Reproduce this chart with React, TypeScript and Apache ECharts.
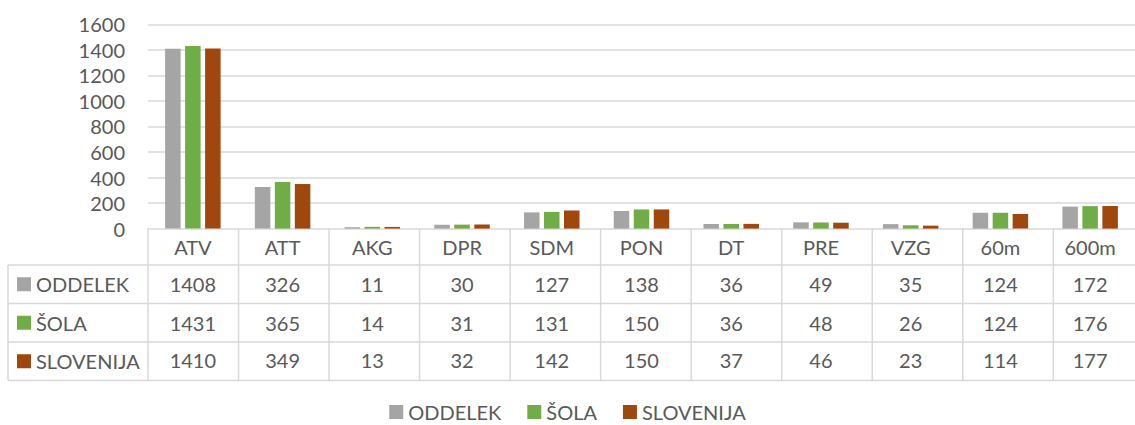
import React, { useEffect, useRef } from "react";
import * as echarts from "echarts";

const categories = ["ATV", "ATT", "AKG", "DPR", "SDM", "PON", "DT", "PRE", "VZG", "60m", "600m"];
const oddelek = [1408, 326, 11, 30, 127, 138, 36, 49, 35, 124, 172];
const sola = [1431, 365, 14, 31, 131, 150, 36, 48, 26, 124, 176];
const slovenija = [1410, 349, 13, 32, 142, 150, 37, 46, 23, 114, 177];
const seriesNames = ["ODDELEK", "ŠOLA", "SLOVENIJA"];
const seriesColors = ["#A5A5A5", "#70AD47", "#9E480E"];
const seriesValues = [oddelek, sola, slovenija];
const yMin = 0;
const yMax = 1600;
const yInterval = 200;

const W = 1135;
const H = 425;
const FONT = "Lato";
const TEXT = "#595959";
const LINE = "#D9D9D9";
const GRID_LEFT = 148;
const GRID_TOP = 24.3;
const GRID_BOTTOM_Y = 228.6;
const CAT_W = 90.53;
const TABLE_LEFT = 8;
const ROW_LINES = [265, 303.5, 342, 380.5];
const ROW_OFFSETS = [37.6, 76, 113.3];
const LABEL_MARGIN = 6;
const LABEL_LH = 24;

export default function App() {
  const ref = useRef<HTMLDivElement>(null);
  useEffect(() => {
    if (!ref.current) return;
    const chart = echarts.init(ref.current, null, { renderer: "svg" });
    const plotRight = GRID_LEFT + CAT_W * categories.length;
    const gridRight = W - plotRight;

    const xAxes: any[] = [
      {
        type: "category",
        data: categories,
        position: "bottom",
        gridIndex: 0,
        axisLine: { show: false },
        axisTick: { show: false },
        axisLabel: {
          color: TEXT,
          fontFamily: FONT,
          fontSize: 20,
          margin: LABEL_MARGIN,
          lineHeight: LABEL_LH,
          interval: 0,
        },
      },
      ...seriesValues.map((vals, si) => ({
        type: "category",
        data: categories,
        position: "bottom",
        gridIndex: 0,
        offset: ROW_OFFSETS[si],
        axisLine: { show: false },
        axisTick: { show: false },
        axisLabel: {
          color: TEXT,
          fontFamily: FONT,
          fontSize: 20,
          margin: LABEL_MARGIN,
          lineHeight: LABEL_LH,
          interval: 0,
          formatter: (_v: string, i: number) => String(vals[i]),
        },
      })),
    ];

    const graphics: any[] = [];
    ROW_LINES.forEach((y) => {
      graphics.push({
        type: "line",
        shape: { x1: TABLE_LEFT, y1: y, x2: plotRight, y2: y },
        style: { stroke: LINE, lineWidth: 1.5 },
        silent: true,
      });
    });
    graphics.push({
      type: "line",
      shape: { x1: TABLE_LEFT, y1: ROW_LINES[0], x2: TABLE_LEFT, y2: ROW_LINES[3] },
      style: { stroke: LINE, lineWidth: 1.5 },
      silent: true,
    });
    for (let i = 0; i <= categories.length; i++) {
      const x = GRID_LEFT + i * CAT_W;
      graphics.push({
        type: "line",
        shape: { x1: x, y1: GRID_BOTTOM_Y, x2: x, y2: ROW_LINES[3] },
        style: { stroke: LINE, lineWidth: 1.5 },
        silent: true,
      });
    }
    seriesNames.forEach((name, si) => {
      const cy = (ROW_LINES[si] + ROW_LINES[si + 1]) / 2;
      graphics.push({
        type: "rect",
        shape: { x: 17, y: cy - 7, width: 14, height: 14 },
        style: { fill: seriesColors[si] },
        silent: true,
      });
      graphics.push({
        type: "text",
        x: 36,
        y: cy,
        style: {
          text: name,
          fill: TEXT,
          font: `20px ${FONT}`,
          textAlign: "left",
          textVerticalAlign: "middle",
          verticalAlign: "middle",
        },
        silent: true,
      });
    });

    chart.setOption({
      animation: false,
      backgroundColor: "#ffffff",
      grid: {
        left: GRID_LEFT,
        top: GRID_TOP,
        right: gridRight,
        bottom: H - GRID_BOTTOM_Y,
        containLabel: false,
      },
      legend: {
        data: seriesNames,
        left: "center",
        top: 397,
        padding: [5, 5, 0, 5],
        icon: "rect",
        itemWidth: 14,
        itemHeight: 14,
        itemGap: 26,
        textStyle: { color: TEXT, fontFamily: FONT, fontSize: 20, lineHeight: 20 },
      },
      xAxis: xAxes,
      yAxis: {
        type: "value",
        min: yMin,
        max: yMax,
        interval: yInterval,
        axisLine: { show: false },
        axisTick: { show: false },
        axisLabel: {
          color: TEXT,
          fontFamily: FONT,
          fontSize: 20,
          margin: 23,
          formatter: (v: number) => String(v),
        },
        splitLine: { lineStyle: { color: LINE, width: 1.5 } },
      },
      series: seriesValues.map((vals, si) => ({
        name: seriesNames[si],
        type: "bar",
        xAxisIndex: 0,
        data: vals,
        barWidth: 15.5,
        barGap: "29%",
        itemStyle: { color: seriesColors[si] },
      })),
      graphic: graphics,
    });
    return () => chart.dispose();
  }, []);
  return (
    <div
      ref={ref}
      style={{ position: "fixed", left: 0, top: 0, width: W, height: H, overflow: "hidden" }}
    />
  );
}
